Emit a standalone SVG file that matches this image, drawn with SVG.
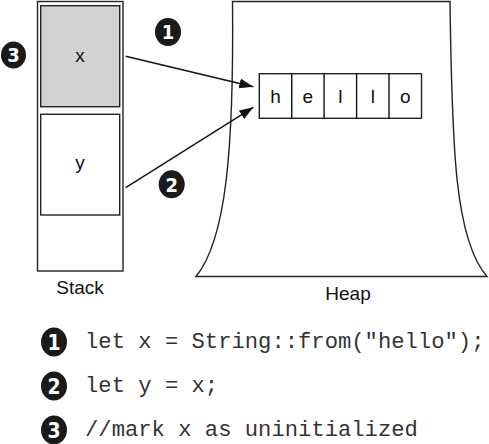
<svg xmlns="http://www.w3.org/2000/svg" width="489" height="444" viewBox="0 0 489 444">
<style>
  .box { fill: #ffffff; stroke: #222; stroke-width: 1.4; }
  .lbl { font-family: "Liberation Sans", Arial, sans-serif; font-size: 19px; fill: #111; text-anchor: middle; }
  .cell { font-family: "Liberation Sans", Arial, sans-serif; font-size: 19px; fill: #111; text-anchor: middle; }
  .code { font-family: "Liberation Mono", "Courier New", monospace; font-size: 22.2px; fill: #333; }
  .badge { fill: #1a1a1a; }
  .num { font-family: "DejaVu Sans Condensed", "DejaVu Sans", sans-serif; font-weight: bold; font-size: 20px; fill: #ffffff; text-anchor: middle; }
  .conn { stroke: #111; stroke-width: 1.4; fill: none; }
</style>
<defs>
  <marker id="arrow" markerUnits="userSpaceOnUse" markerWidth="16" markerHeight="12" refX="14" refY="5" orient="auto">
    <path d="M0,0 L14,5 L0,10 Z" fill="#111"/>
  </marker>
</defs>
<rect width="489" height="444" fill="#ffffff"/>

<g id="stack">
  <rect class="box" x="37.5" y="1.5" width="85.5" height="269.5"/>
  <text class="lbl" x="80" y="294">Stack</text>
</g>
<g id="stack-x">
  <rect x="40.7" y="5.7" width="79" height="101" fill="#d2d2d2" stroke="#222" stroke-width="1.4"/>
  <text class="lbl" x="80" y="62">x</text>
</g>
<g id="stack-y">
  <rect class="box" x="40.7" y="114.3" width="79" height="100.7"/>
  <text class="lbl" x="80" y="169">y</text>
</g>

<g id="heap">
  <path class="box" d="M232.5,1.5 L450,1.5 C452,150 455,240 487,276.5 L196,276.5 C226,240 234,150 232.5,1.5 Z"/>
  <text class="lbl" x="348" y="300">Heap</text>
</g>

<g id="hello">
  <rect class="box" x="259.3" y="73.7" width="162.2" height="44.6"/>
  <line class="conn" x1="291.7" y1="73.7" x2="291.7" y2="118.3"/>
  <line class="conn" x1="324.1" y1="73.7" x2="324.1" y2="118.3"/>
  <line class="conn" x1="356.6" y1="73.7" x2="356.6" y2="118.3"/>
  <line class="conn" x1="389" y1="73.7" x2="389" y2="118.3"/>
  <text class="cell" x="275.5" y="102.5">h</text>
  <text class="cell" x="307.9" y="102.5">e</text>
  <text class="cell" x="340.3" y="102.5">l</text>
  <text class="cell" x="372.8" y="102.5">l</text>
  <text class="cell" x="405.2" y="102.5">o</text>
</g>

<g id="connectors">
  <line class="conn" x1="125.7" y1="56.3" x2="253.3" y2="86.7" marker-end="url(#arrow)"/>
  <line class="conn" x1="125.7" y1="187.7" x2="253.3" y2="107.3" marker-end="url(#arrow)"/>
</g>

<g id="badge-3-top">
  <ellipse class="badge" cx="13.5" cy="55" rx="12.5" ry="13.5"/>
  <text class="num" x="13.5" y="62.2">3</text>
</g>
<g id="badge-1-top">
  <ellipse class="badge" cx="168" cy="32" rx="13" ry="14"/>
  <text class="num" x="168" y="39.2">1</text>
</g>
<g id="badge-2-top">
  <ellipse class="badge" cx="171.7" cy="184.3" rx="13" ry="14"/>
  <text class="num" x="171.7" y="191.5">2</text>
</g>

<g id="code-1">
  <ellipse class="badge" cx="54" cy="342" rx="13" ry="14.5"/>
  <text class="num" x="54" y="349.5" style="font-size:21px">1</text>
  <text class="code" x="85" y="348">let x = String::from("hello");</text>
</g>
<g id="code-2">
  <ellipse class="badge" cx="54" cy="386" rx="13" ry="14.5"/>
  <text class="num" x="54" y="393.5" style="font-size:21px">2</text>
  <text class="code" x="85" y="392">let y = x;</text>
</g>
<g id="code-3">
  <ellipse class="badge" cx="54" cy="430" rx="13" ry="14.5"/>
  <text class="num" x="54" y="437.5" style="font-size:21px">3</text>
  <text class="code" x="85" y="436">//mark x as uninitialized</text>
</g>
</svg>
